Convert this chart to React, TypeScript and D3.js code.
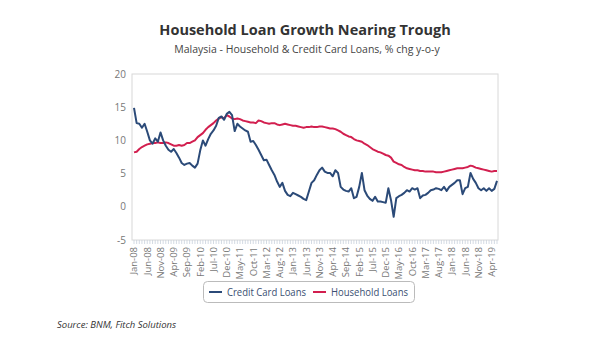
import React from "react";
import * as d3 from "d3";

// monthly, Jan-08 .. Jun-19
const months: Date[] = d3.timeMonth.range(new Date(2008, 0, 1), new Date(2019, 6, 1));

const creditCard: number[] = [
  14.9, 12.6, 12.5, 11.9, 12.5, 11.3, 10.0, 9.5, 10.3, 9.8,
  11.2, 10.0, 9.2, 8.6, 8.3, 8.7, 8.1, 7.4, 6.6, 6.3,
  6.5, 6.6, 6.2, 5.9, 6.5, 8.5, 10.0, 9.2, 10.2, 11.0,
  11.5, 12.2, 13.4, 13.6, 13.1, 14.0, 14.3, 13.8, 11.4, 12.5,
  12.1, 11.8, 11.5, 11.3, 9.8, 9.9, 9.3, 8.6, 7.8, 7.0,
  7.1, 6.3, 5.5, 4.8, 3.8, 3.0, 3.6, 2.4, 1.8, 1.6,
  2.1, 1.9, 1.7, 1.5, 1.2, 1.0, 2.3, 3.6, 4.0, 4.8,
  5.5, 5.9, 5.3, 5.1, 5.1, 4.6, 5.5, 5.1, 3.0, 2.6,
  2.4, 2.3, 2.8, 1.3, 1.5, 3.0, 5.1, 2.5, 1.7, 1.2,
  0.9, 1.5, 0.8, 0.8, 0.7, 0.6, 2.8, 1.0, -1.5, 1.3,
  1.6, 1.8, 2.1, 2.5, 2.3, 2.8, 2.6, 2.8, 1.3, 1.7,
  1.8, 2.1, 2.5, 2.6, 2.8, 2.7, 2.5, 3.0, 2.4, 3.0,
  3.3, 3.6, 4.0, 4.0, 1.9, 2.8, 3.0, 5.1, 4.2, 3.6,
  2.8, 2.5, 2.8, 2.4, 2.8, 2.4, 2.7, 3.9,
];

const household: number[] = [
  8.2, 8.3, 8.7, 9.0, 9.2, 9.4, 9.5, 9.6, 9.6, 9.7,
  9.6, 9.6, 9.7, 9.6, 9.4, 9.2, 9.2, 9.3, 9.2, 9.3,
  9.6, 9.6, 9.8, 10.0, 10.5, 10.8, 11.1, 11.6, 12.0, 12.3,
  12.6, 13.0, 13.3, 13.5, 13.3, 13.8, 13.6, 13.3, 13.2, 13.3,
  13.2, 13.0, 12.9, 12.8, 12.7, 12.7, 12.6, 13.0, 12.9, 12.7,
  12.6, 12.5, 12.6, 12.6, 12.4, 12.3, 12.4, 12.5, 12.4, 12.3,
  12.2, 12.2, 12.1, 12.0, 11.9, 12.0, 12.0, 12.1, 12.0, 12.0,
  12.1, 12.1, 12.0, 11.9, 11.8, 11.8, 11.7, 11.5, 11.3, 11.0,
  10.8, 10.6, 10.5, 10.2, 10.0, 9.9, 9.8, 9.5, 9.3, 9.0,
  8.7, 8.5, 8.3, 8.2, 8.0, 7.8, 7.7, 7.4, 6.8, 6.6,
  6.4, 6.3, 6.0, 5.8, 5.7, 5.6, 5.5, 5.5, 5.4, 5.4,
  5.3, 5.3, 5.3, 5.3, 5.2, 5.2, 5.2, 5.3, 5.4, 5.5,
  5.6, 5.7, 5.8, 5.8, 5.8, 5.9, 6.0, 6.2, 6.1, 5.9,
  5.8, 5.7, 5.6, 5.5, 5.4, 5.3, 5.4, 5.4,
];

const yTicks: number[] = [20, 15, 10, 5, 0, -5];
const seriesNames: string[] = ["Credit Card Loans", "Household Loans"];

const fmt = d3.timeFormat("%b-%y");

export default function App() {
  const W = 600, H = 360;
  const left = 132, right = 498, top = 74, bottom = 240;
  const font = "'Open Sans', sans-serif";
  const blue = "#2b4a78", red = "#d21f4f";

  const x = d3.scalePoint<number>()
    .domain(months.map((_, i) => i))
    .range([left + 2, right - 1]);
  const y = d3.scaleLinear().domain([-5, 20]).range([bottom, top]);

  const line = d3.line<number>()
    .x((_, i) => x(i) as number)
    .y(d => y(d));

  return (
    <svg width={W} height={H} style={{ position: "absolute", left: 0, top: 0 }} fontFamily={font}>
      <rect width={W} height={H} fill="#fff" />
      <text x={305} y={35} textAnchor="middle" fontSize={14.5} fontWeight="bold" fill="#333">
        Household Loan Growth Nearing Trough
      </text>
      <text x={307} y={53} textAnchor="middle" fontSize={10.5} fill="#444">
        Malaysia - Household &amp; Credit Card Loans, % chg y-o-y
      </text>

      <rect x={left} y={top} width={right - left} height={bottom - top} fill="none" stroke="#d8d8d8" />

      {yTicks.map(t => (
        <text key={t} x={126} y={y(t)} dy="0.35em" textAnchor="end" fontSize={10} fill="#777">{t}</text>
      ))}

      {months.map((m, i) => (
        <line key={i} x1={x(i)} x2={x(i)} y1={bottom} y2={bottom + 4} stroke="#c8d0dc" strokeWidth={0.8} />
      ))}
      {months.map((m, i) => i % 5 === 0 ? (
        <text key={"l" + i} transform={`translate(${x(i)},${bottom + 7}) rotate(-90)`}
          textAnchor="end" dy="0.35em" fontSize={9.5} fill="#777">{fmt(m)}</text>
      ) : null)}

      <path d={line(household) || ""} fill="none" stroke={red} strokeWidth={2} strokeLinejoin="round" />
      <path d={line(creditCard) || ""} fill="none" stroke={blue} strokeWidth={2} strokeLinejoin="round" />

      <rect x={203.5} y={281.5} width={211} height={21} rx={4} fill="#fff" stroke="#bbb" />
      <line x1={209} x2={222} y1={292} y2={292} stroke={blue} strokeWidth={2} />
      <text x={227} y={292} dy="0.35em" fontSize={10} fill="#3a4f72"
        textLength={79} lengthAdjust="spacingAndGlyphs">{seriesNames[0]}</text>
      <line x1={313} x2={326} y1={292} y2={292} stroke={red} strokeWidth={2} />
      <text x={331} y={292} dy="0.35em" fontSize={10} fill="#3a4f72"
        textLength={77} lengthAdjust="spacingAndGlyphs">{seriesNames[1]}</text>

      <text x={57} y={328} fontSize={9.5} fontStyle="italic" fill="#333">Source: BNM, Fitch Solutions</text>
    </svg>
  );
}
